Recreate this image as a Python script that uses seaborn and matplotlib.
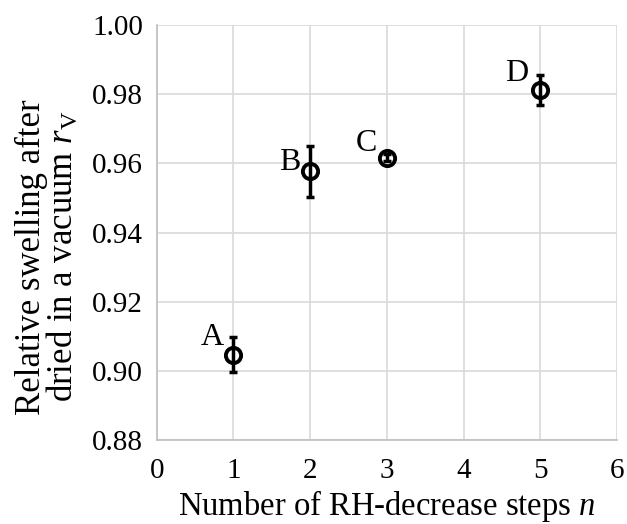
import matplotlib
matplotlib.use("Agg")
import matplotlib.pyplot as plt
import seaborn as sns
import pandas as pd

labels = ["A", "B", "C", "D"]
steps = [1, 2, 3, 5]
swelling = [0.9047, 0.9577, 0.9617, 0.9812]
errors = [0.0050, 0.0075, 0.0010, 0.0044]

df = pd.DataFrame({"n": steps, "rV": swelling, "err": errors, "label": labels})

# label offsets in points (right edge, baseline relative to marker centre)
label_offsets = {"A": (-7, 7), "B": (-7, 1), "C": (-7, 5), "D": (-8.5, 6.5)}

sns.set_theme(style="whitegrid")
plt.rcParams["font.family"] = ["Liberation Serif", "DejaVu Serif"]
plt.rcParams["mathtext.fontset"] = "custom"
plt.rcParams["mathtext.rm"] = "Liberation Serif"
plt.rcParams["mathtext.it"] = "Liberation Serif:italic"

fig = plt.figure(figsize=(6.27, 5.24), dpi=100)
ax = fig.add_axes([0.25, 0.16, 0.734, 0.792])

sns.scatterplot(data=df, x="n", y="rV", ax=ax, s=120, marker="o",
                facecolor="white", edgecolor="black", linewidth=2.8, zorder=3,
                legend=False)
ax.errorbar(df["n"], df["rV"], yerr=df["err"], fmt="none", ecolor="black",
            elinewidth=2.5, capsize=3, capthick=2.5, zorder=4)

for _, r in df.iterrows():
    dx, dy = label_offsets[r["label"]]
    ax.annotate(r["label"], (r["n"], r["rV"]), xytext=(dx, dy),
                textcoords="offset points", ha="right", va="baseline",
                fontsize=23, color="black")

ax.set_xlim(0, 6)
ax.set_ylim(0.88, 1.00)
ax.set_xticks(range(0, 7))
yt = [0.88, 0.90, 0.92, 0.94, 0.96, 0.98, 1.00]
ax.set_yticks(yt)
ax.set_yticklabels([f"{v:.2f}" for v in yt])
ax.tick_params(labelsize=21, colors="black", length=0)
ax.tick_params(axis="x", pad=12.5)
ax.tick_params(axis="y", pad=10)
ax.grid(True, color="#d9d9d9", linewidth=1.2)
for s in ["top", "right"]:
    ax.spines[s].set_visible(False)
for s in ["left", "bottom"]:
    ax.spines[s].set_color("#bfbfbf")
    ax.spines[s].set_linewidth(1.2)

ax.set_xlabel("Number of RH-decrease steps $\\it{n}$", fontsize=23.5, color="black", labelpad=3)
ax.set_ylabel("Relative swelling after\ndried in a vacuum $\\it{r}_{\\rm V}$", fontsize=25,
              color="black", labelpad=8, linespacing=0.9)
ax.yaxis.label.set_y(0.442)

fig.savefig("out.png", dpi=100)
